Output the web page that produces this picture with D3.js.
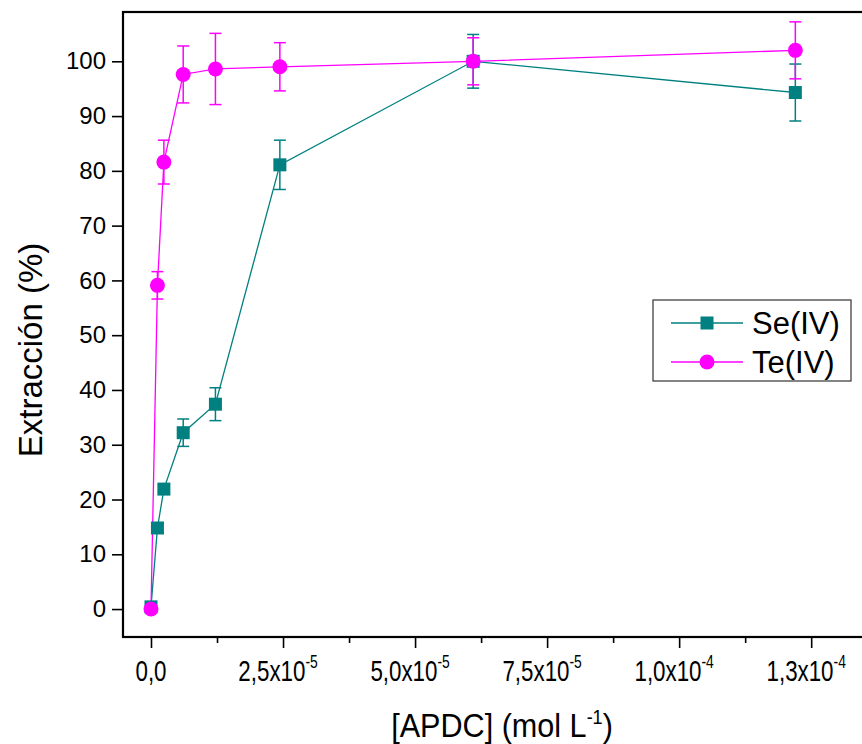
<!DOCTYPE html>
<html>
<head>
<meta charset="utf-8">
<script src="https://cdn.jsdelivr.net/npm/d3@7"></script>
<style>
  html, body { margin: 0; padding: 0; background: #ffffff; }
  svg { display: block; }
  text { font-family: "Liberation Sans", Arial, sans-serif; fill: #000; }
</style>
</head>
<body>
<svg id="chart" width="862" height="744"></svg>
<script>
// ---- data ----
const concentrations = [0, 1.22e-6, 2.44e-6, 6.1e-6, 1.22e-5, 2.44e-5, 6.1e-5, 1.22e-4];
const seValues = [0.4, 14.8, 21.9, 32.2, 37.4, 81.1, 100.0, 94.3];
const seErrors = [0.8, 0.8, 0.8, 2.5, 3.0, 4.5, 4.9, 5.2];
const teValues = [0.0, 59.1, 81.6, 97.6, 98.6, 99.0, 100.0, 102.0];
const teErrors = [0.5, 2.5, 4.0, 5.2, 6.5, 4.4, 4.3, 5.2];
const xTickValues = [0, 2.5e-5, 5.0e-5, 7.5e-5, 1.0e-4, 1.25e-4];
const xTickMantissa = ["0,0", "2,5x10", "5,0x10", "7,5x10", "1,0x10", "1,3x10"];
const xTickExponent = ["", "-5", "-5", "-5", "-4", "-4"];
const xMinorTicks = [1.25e-5, 3.75e-5, 6.25e-5, 8.75e-5, 1.125e-4];
const yTickValues = [0, 10, 20, 30, 40, 50, 60, 70, 80, 90, 100];
const seriesNames = ["Se(IV)", "Te(IV)"];
const seriesColors = ["#008080", "#ff00ff"];

// ---- layout ----
const plot = { left: 123, top: 12, right: 864, bottom: 637 };
const svg = d3.select("#chart");

const x = d3.scaleLinear().domain([-5.3e-6, 1.35e-4]).range([plot.left, plot.right]);
const y = d3.scaleLinear().domain([-5.1, 109]).range([plot.bottom, plot.top]);

// frame
svg.append("rect")
  .attr("x", plot.left).attr("y", plot.top)
  .attr("width", plot.right - plot.left).attr("height", plot.bottom - plot.top)
  .attr("fill", "none").attr("stroke", "#000").attr("stroke-width", 2.2);

// y axis
const yAxis = d3.axisLeft(y).tickValues(yTickValues).tickSize(11).tickPadding(6)
  .tickFormat(d3.format("d"));
const gy = svg.append("g").attr("transform", `translate(${plot.left},0)`).call(yAxis);
gy.select(".domain").remove();
gy.selectAll(".tick line").attr("stroke", "#000").attr("stroke-width", 1.6);
gy.selectAll(".tick text").attr("font-size", 24).attr("font-family", "Liberation Sans, Arial, sans-serif");

// x axis (major ticks)
const xAxis = d3.axisBottom(x).tickValues(xTickValues).tickSize(11).tickFormat("");
const gx = svg.append("g").attr("transform", `translate(0,${plot.bottom})`).call(xAxis);
gx.select(".domain").remove();
gx.selectAll(".tick line").attr("stroke", "#000").attr("stroke-width", 1.6);
// minor ticks
const xMinor = d3.axisBottom(x).tickValues(xMinorTicks).tickSize(6).tickFormat("");
const gxm = svg.append("g").attr("transform", `translate(0,${plot.bottom})`).call(xMinor);
gxm.select(".domain").remove();
gxm.selectAll(".tick line").attr("stroke", "#000").attr("stroke-width", 1.6);

// x tick labels with superscript
xTickValues.forEach((v, i) => {
  const t = svg.append("text")
    .attr("transform", `translate(${x(v) - (xTickExponent[i] ? 5 : 0)},681) scale(0.77,1)`)
    .attr("text-anchor", "middle")
    .attr("font-size", 29);
  t.append("tspan").text(xTickMantissa[i]);
  if (xTickExponent[i]) {
    t.append("tspan").attr("dy", -13).attr("font-size", 18).text(xTickExponent[i]);
  }
});

// axis titles
svg.append("text")
  .attr("transform", `translate(42,350) rotate(-90)`)
  .attr("text-anchor", "middle")
  .attr("font-size", 33)
  .text("Extracción (%)");

const xt = svg.append("text")
  .attr("transform", `translate(502,737) scale(0.9,1)`)
  .attr("text-anchor", "middle")
  .attr("font-size", 34);
xt.append("tspan").text("[APDC] (mol L");
xt.append("tspan").attr("dy", -13).attr("font-size", 20).text("-1");
xt.append("tspan").attr("dy", 13).text(")");

// ---- series ----
const seData = concentrations.map((c, i) => ({ x: c, y: seValues[i], e: seErrors[i] }));
const teData = concentrations.map((c, i) => ({ x: c, y: teValues[i], e: teErrors[i] }));
const allSeries = [seData, teData];

const line = d3.line().x(d => x(d.x)).y(d => y(d.y));
const capHalf = 6;

allSeries.forEach((data, si) => {
  const col = seriesColors[si];
  const g = svg.append("g");
  // error bars
  data.forEach(d => {
    const cx = x(d.x), y1 = y(d.y + d.e), y2 = y(d.y - d.e);
    g.append("line").attr("x1", cx).attr("x2", cx).attr("y1", y1).attr("y2", y2)
      .attr("stroke", col).attr("stroke-width", 1.5);
    [y1, y2].forEach(yy => g.append("line")
      .attr("x1", cx - capHalf).attr("x2", cx + capHalf).attr("y1", yy).attr("y2", yy)
      .attr("stroke", col).attr("stroke-width", 1.5));
  });
  g.append("path").datum(data).attr("d", line)
    .attr("fill", "none").attr("stroke", col).attr("stroke-width", 1.3);
});

// markers: Se squares then Te circles
svg.append("g").selectAll("rect").data(seData).join("rect")
  .attr("x", d => x(d.x) - 6.5).attr("y", d => y(d.y) - 6.5)
  .attr("width", 13).attr("height", 13)
  .attr("fill", seriesColors[0]);
svg.append("g").selectAll("circle").data(teData).join("circle")
  .attr("cx", d => x(d.x)).attr("cy", d => y(d.y)).attr("r", 7.5)
  .attr("fill", seriesColors[1]);

// ---- legend ----
const lg = svg.append("g");
lg.append("rect").attr("x", 653).attr("y", 300).attr("width", 198).attr("height", 81)
  .attr("fill", "#fff").attr("stroke", "#333").attr("stroke-width", 1.2);
const legendRows = [323, 362];
seriesNames.forEach((name, i) => {
  const yy = legendRows[i];
  lg.append("line").attr("x1", 671).attr("x2", 743).attr("y1", yy).attr("y2", yy)
    .attr("stroke", seriesColors[i]).attr("stroke-width", 1.3);
  if (i === 0) {
    lg.append("rect").attr("x", 700.5).attr("y", yy - 6.5).attr("width", 13).attr("height", 13)
      .attr("fill", seriesColors[i]);
  } else {
    lg.append("circle").attr("cx", 707).attr("cy", yy).attr("r", 7.5).attr("fill", seriesColors[i]);
  }
  lg.append("text").attr("x", 752).attr("y", yy + 11).attr("font-size", 31).text(name);
});
</script>
</body>
</html>
